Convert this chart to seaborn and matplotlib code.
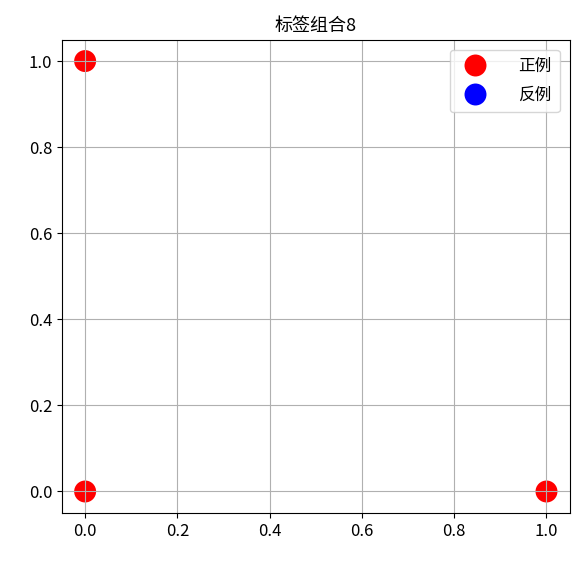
import seaborn as sns
import pandas as pd
import matplotlib.pyplot as plt

plt.rcParams['font.family'] = ['Noto Sans CJK SC', 'DejaVu Sans']
plt.rcParams['axes.unicode_minus'] = False

# 数据
x_vals = [0, 0, 1]
y_vals = [1, 0, 0]
labels = ['正例', '正例', '正例']
label_order = ['正例', '反例']
colors = ['red', 'blue']

df = pd.DataFrame({'x': x_vals, 'y': y_vals, 'label': labels})

fig, ax = plt.subplots(figsize=(5.8, 5.65), dpi=100)
sns.scatterplot(data=df, x='x', y='y', hue='label', hue_order=label_order,
                palette=colors, s=250, edgecolor='none', ax=ax)
ax.set_title('标签组合8', fontsize=13)
ax.set_xlabel('')
ax.set_ylabel('')
ax.set_xlim(-0.05, 1.05)
ax.set_ylim(-0.05, 1.05)
ax.grid(True)
ax.tick_params(labelsize=12)
ax.legend(loc='upper right', fontsize=12, markerscale=1.0, handletextpad=1.6,
          labelspacing=0.7, borderaxespad=0.6, borderpad=0.5)
fig.subplots_adjust(left=0.107, right=0.982, top=0.93, bottom=0.092)
fig.savefig('out.png')
